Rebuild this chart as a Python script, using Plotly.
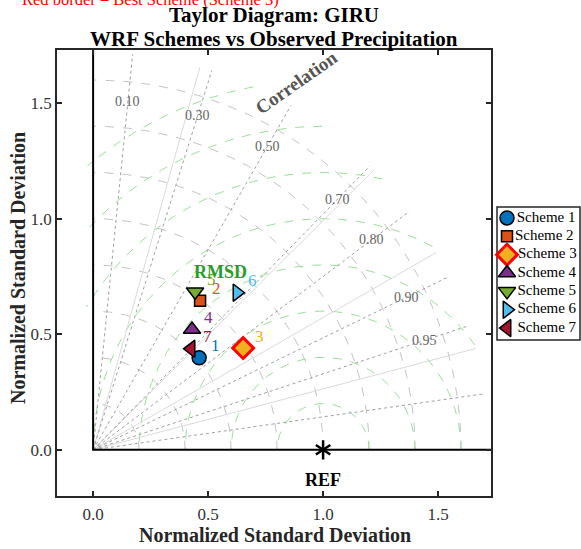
import numpy as np
import plotly.graph_objects as go

# ---------------- data ----------------
schemes = ["Scheme 1", "Scheme 2", "Scheme 3", "Scheme 4", "Scheme 5", "Scheme 6", "Scheme 7"]
scheme_ids = ["1", "2", "3", "4", "5", "6", "7"]
std_norm = [0.609, 0.795, 0.787, 0.675, 0.815, 0.924, 0.610]
corr = [0.757, 0.585, 0.829, 0.637, 0.544, 0.677, 0.698]
colors = ["#0072BD", "#D95319", "#EDB120", "#7E2F8E", "#77AC30", "#4DBEEE", "#A2142F"]
symbols = ["circle", "square", "diamond", "triangle-up", "triangle-down", "triangle-right", "triangle-left"]
sizes = [14, 11, 16, 15, 15, 15, 15]
edge_colors = ["black", "black", "red", "black", "black", "black", "black"]
edge_widths = [1.5, 1.5, 3, 1.5, 1.5, 1.5, 1.5]

ref_std = 1.0
std_ticks = [0.2, 0.4, 0.6, 0.8, 1.0, 1.2, 1.4, 1.6]
rms_ticks = [0.2, 0.4, 0.6, 0.8, 1.0, 1.2, 1.4, 1.6]
cor_ticks = [0.1, 0.3, 0.5, 0.7, 0.8, 0.9, 0.95, 0.99]
cor_minor_ticks = [0.27, 0.71, 0.868, 0.967]
cor_label_ticks = [0.10, 0.30, 0.50, 0.70, 0.80, 0.90, 0.95]
axis_ticks = [0.0, 0.5, 1.0, 1.5]
r_max = 1.72
x_range = [-0.157, 1.73]
y_range = [-0.2, 1.73]

SERIF = "Liberation Serif, Times New Roman, serif"

# page geometry (pixels)
W, H = 581, 549
PL, PR, PT, PB = 57, 491, 50, 496          # main plot box
LG_L, LG_R, LG_T, LG_B = 497, 580, 207, 340  # legend box
PAPER_W = W - PL
PAPER_H = PB - PT


def px_x(p):
    return (p - PL) / PAPER_W


def px_y(p):
    return (PB - p) / PAPER_H


fig = go.Figure()

# std circles (grey dashed)
th = np.linspace(0, np.pi / 2, 200)
for s in std_ticks:
    fig.add_trace(go.Scatter(x=s * np.cos(th), y=s * np.sin(th), mode="lines",
                             line=dict(color="#c4c4c4", width=1, dash="dash"),
                             hoverinfo="skip", showlegend=False))

# RMSD circles (green dashed) around reference
th2 = np.linspace(0, np.pi, 600)
for r in rms_ticks:
    xs = ref_std + r * np.cos(th2)
    ys = r * np.sin(th2)
    keep = (np.hypot(xs, ys) <= r_max) & (xs >= -0.03)
    xs = np.where(keep, xs, np.nan)
    ys = np.where(keep, ys, np.nan)
    fig.add_trace(go.Scatter(x=xs, y=ys, mode="lines",
                             line=dict(color="#9edc9e", width=1, dash="dash"),
                             hoverinfo="skip", showlegend=False))

# correlation rays
for c in cor_minor_ticks:
    fig.add_trace(go.Scatter(x=[0, r_max * c], y=[0, r_max * np.sqrt(1 - c * c)], mode="lines",
                             line=dict(color="#dadada", width=1),
                             hoverinfo="skip", showlegend=False))
for c in cor_ticks:
    fig.add_trace(go.Scatter(x=[0, r_max * c], y=[0, r_max * np.sqrt(1 - c * c)], mode="lines",
                             line=dict(color="#a0a0a0", width=1, dash="dot"),
                             hoverinfo="skip", showlegend=False))

# correlation labels
for c in cor_label_ticks:
    rr = 1.515
    fig.add_annotation(x=rr * c, y=rr * np.sqrt(1 - c * c), text=f"{c:.2f}", showarrow=False,
                       font=dict(family=SERIF, size=14, color="#666666"))

# axis lines x=0 and y=0
fig.add_trace(go.Scatter(x=[0, 0, x_range[1]], y=[y_range[1], 0, 0], mode="lines",
                         line=dict(color="black", width=2), hoverinfo="skip", showlegend=False))

# reference point
for sym in ["y-up-open", "y-down-open"]:
    fig.add_trace(go.Scatter(x=[ref_std], y=[0], mode="markers",
                             marker=dict(symbol=sym, size=12, color="black",
                                         line=dict(color="black", width=2.5)),
                             hoverinfo="skip", showlegend=False))
fig.add_annotation(x=ref_std, y=-0.13, text="<b>REF</b>", showarrow=False,
                   font=dict(family=SERIF, size=18, color="black"))

# schemes
for i in range(len(schemes)):
    xi = std_norm[i] * corr[i]
    yi = std_norm[i] * np.sqrt(1 - corr[i] ** 2)
    fig.add_trace(go.Scatter(x=[xi], y=[yi], mode="markers", name=schemes[i],
                             marker=dict(symbol=symbols[i], size=sizes[i], color=colors[i],
                                         opacity=1,
                                         line=dict(color=edge_colors[i], width=edge_widths[i])),
                             showlegend=False))
    fig.add_annotation(x=xi, y=yi, text=scheme_ids[i], showarrow=False, xshift=16, yshift=12,
                       font=dict(family=SERIF, size=17, color=colors[i]))

# legend (drawn on its own small axes so it sits inside the page like the original)
fig.add_shape(type="rect", xref="paper", yref="paper",
              x0=px_x(LG_L), x1=px_x(LG_R), y0=px_y(LG_B), y1=px_y(LG_T),
              line=dict(color="#262626", width=1.5), fillcolor="white", layer="below")
legend_rows = list(range(len(schemes)))
fig.add_trace(go.Scatter(x=[0] * len(schemes), y=legend_rows, mode="markers+text",
                         text=schemes, textposition="middle right",
                         textfont=dict(family=SERIF, size=15, color="black"),
                         marker=dict(symbol=symbols, size=sizes, color=colors, opacity=1,
                                     line=dict(color=edge_colors, width=edge_widths)),
                         xaxis="x2", yaxis="y2", hoverinfo="skip", showlegend=False,
                         cliponaxis=False))

# text labels
fig.add_annotation(x=0.552, y=0.77, text="<b>RMSD</b>", showarrow=False,
                   font=dict(family=SERIF, size=18, color="#2e9a2e"))
fig.add_annotation(x=0.883, y=1.589, text="<b>Correlation</b>", showarrow=False, textangle=-35,
                   font=dict(family=SERIF, size=19, color="#555555"))

# titles
fig.add_annotation(xref="paper", yref="paper", x=px_x((PL + PR) / 2), y=px_y(15), yanchor="middle",
                   text="<b>Taylor Diagram: GIRU</b>", showarrow=False,
                   font=dict(family=SERIF, size=21, color="black"))
fig.add_annotation(xref="paper", yref="paper", x=px_x((PL + PR) / 2), y=px_y(39), yanchor="middle",
                   text="<b>WRF Schemes vs Observed Precipitation</b>", showarrow=False,
                   font=dict(family=SERIF, size=21, color="black"))
fig.add_annotation(xref="paper", yref="paper", x=px_x(20), xanchor="left",
                   y=px_y(0), yanchor="middle",
                   text="Red border = Best Scheme (Scheme 3)", showarrow=False,
                   font=dict(family=SERIF, size=16.5, color="red"))
fig.add_annotation(xref="paper", yref="paper", x=px_x(275), y=px_y(535),
                   yanchor="middle", text="<b>Normalized Standard Deviation</b>", showarrow=False,
                   font=dict(family=SERIF, size=20, color="#262626"))
fig.add_annotation(xref="paper", yref="paper", x=px_x(18), y=px_y(268),
                   xanchor="center", yanchor="middle", textangle=-90,
                   text="<b>Normalized Standard Deviation</b>", showarrow=False,
                   font=dict(family=SERIF, size=20, color="#262626"))

axis_common = dict(showgrid=False, zeroline=False, showline=True, mirror="ticks",
                   linecolor="#262626", linewidth=1.5, ticks="inside", ticklen=5,
                   tickcolor="#262626", tickwidth=1.5,
                   tickvals=axis_ticks, ticktext=[f"{v:.1f}" for v in axis_ticks],
                   tickfont=dict(family=SERIF, size=17, color="#333333"))

row_px = (LG_B - LG_T) / 7.2
fig.update_layout(
    width=W, height=H,
    margin=dict(l=PL, r=0, t=PT, b=H - PB, autoexpand=False),
    plot_bgcolor="white", paper_bgcolor="white",
    xaxis=dict(range=x_range, domain=[0, px_x(PR)], ticklabelstandoff=2, **axis_common),
    yaxis=dict(range=y_range, **axis_common),
    xaxis2=dict(domain=[px_x(LG_L), px_x(LG_R)], anchor="y2", visible=False,
                range=[-(507 - LG_L) / row_px, (LG_R - 507) / row_px], fixedrange=True),
    yaxis2=dict(domain=[px_y(LG_B), px_y(LG_T)], anchor="x2", visible=False,
                range=[len(schemes) - 1 + (LG_B - 328) / row_px, -(218 - LG_T) / row_px],
                fixedrange=True),
    showlegend=False,
)

fig.write_html("out.html")
